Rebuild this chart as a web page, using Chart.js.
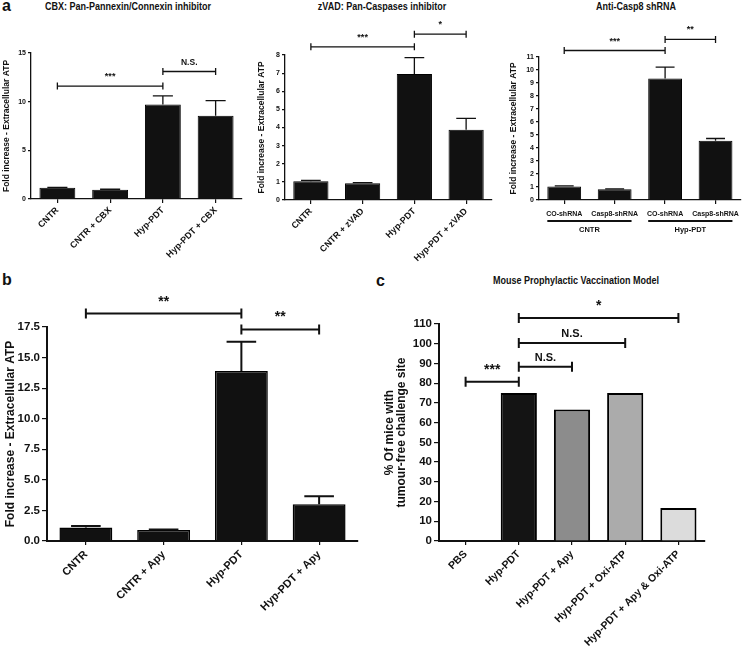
<!DOCTYPE html>
<html>
<head>
<meta charset="utf-8">
<script src="https://cdn.jsdelivr.net/npm/chart.js@4.4.0/dist/chart.umd.min.js"></script>
<style>
  body { margin: 0; background: #fff; width: 745px; height: 657px; position: relative; overflow: hidden; }
  canvas { position: absolute; }
  .letter { position: absolute; font: bold 16px "Liberation Sans", Arial, sans-serif; line-height: 16px; color: #111; }
  .title { position: absolute; font: bold 10px "Liberation Sans Narrow", "Liberation Sans", Arial, sans-serif; line-height: 14px;
           color: #111; white-space: nowrap; transform: translateX(-50%) scaleX(0.9); }
</style>
</head>
<body>
<div class="letter" style="left:2px;top:-2px">a</div>
<div class="title" style="left:128px;top:0px">CBX: Pan-Pannexin/Connexin inhibitor</div>
<div class="title" style="left:382px;top:0px">zVAD: Pan-Caspases inhibitor</div>
<div class="title" style="left:636px;top:0px">Anti-Casp8 shRNA</div>
<div class="letter" style="left:2px;top:272px">b</div>
<div class="letter" style="left:376px;top:273px">c</div>
<div class="title" style="left:576px;top:274px">Mouse Prophylactic Vaccination Model</div>

<canvas id="a1" width="250" height="300" style="left:0;top:0"></canvas>
<canvas id="a2" width="250" height="300" style="left:245px;top:0"></canvas>
<canvas id="a3" width="255" height="300" style="left:490px;top:0"></canvas>
<canvas id="b" width="370" height="397" style="left:0;top:260px"></canvas>
<canvas id="c" width="375" height="397" style="left:370px;top:260px"></canvas>

<script>
// panel a, CBX
const a1Labels = ['CNTR', 'CNTR + CBX', 'Hyp-PDT', 'Hyp-PDT + CBX'];
const a1Values = [1.15, 0.95, 9.7, 8.55];
const a1Sem = [0.05, 0.05, 0.9, 1.55];
const a1Ticks = [0, 5, 10, 15];
const a1Sig = [[0, 2, 11.6, '***'], [2, 3, 13.1, 'N.S.']];

// panel a, zVAD
const a2Labels = ['CNTR', 'CNTR + zVAD', 'Hyp-PDT', 'Hyp-PDT + zVAD'];
const a2Values = [1.03, 0.93, 6.95, 3.88];
const a2Sem = [0.05, 0.03, 0.9, 0.62];
const a2Ticks = [0, 1, 2, 3, 4, 5, 6, 7, 8];
const a2Sig = [[0, 2, 8.45, '***'], [2, 3, 9.15, '*']];

// panel a, shRNA
const a3Labels = ['CO-shRNA', 'Casp8-shRNA', 'CO-shRNA', 'Casp8-shRNA'];
const a3Groups = ['CNTR', 'Hyp-PDT'];
const a3GroupSpans = [[0, 1], [2, 3]];
const a3Values = [1.03, 0.83, 9.35, 4.55];
const a3Sem = [0.06, 0.03, 0.87, 0.18];
const a3Ticks = [0, 1, 2, 3, 4, 5, 6, 7, 8, 9, 10, 11];
const a3Sig = [[0, 2, 11.5, '***'], [2, 3, 12.35, '**']];

// panel b
const bLabels = ['CNTR', 'CNTR + Apy', 'Hyp-PDT', 'Hyp-PDT + Apy'];
const bValues = [1.1, 0.9, 13.9, 3.0];
const bSem = [0.12, 0.05, 2.4, 0.65];
const bTicks = [0, 2.5, 5, 7.5, 10, 12.5, 15, 17.5];
const bSig = [[0, 2, 18.6, '**'], [2, 3, 17.3, '**']];

// panel c
const cLabels = ['PBS', 'Hyp-PDT', 'Hyp-PDT + Apy', 'Hyp-PDT + Oxi-ATP', 'Hyp-PDT + Apy & Oxi-ATP'];
const cValues = [0, 75, 66.7, 75, 16.7];
const cColors = ['#ffffff', '#141414', '#8c8c8c', '#ababab', '#dcdcdc'];
const cTicks = [0, 10, 20, 30, 40, 50, 60, 70, 80, 90, 100, 110];
const cSig = [[0, 1, 80.7, '***'], [1, 2, 88.3, 'N.S.'], [1, 3, 100.4, 'N.S.'], [1, 4, 113, '*']];

Chart.defaults.font.family = '"Liberation Sans", Arial, sans-serif';
Chart.defaults.font.weight = 'bold';
Chart.defaults.color = '#111';

const INK = '#111';

// error bars, significance brackets, group lines
const marks = {
  id: 'marks',
  afterDatasetsDraw(chart, args, o) {
    const ctx = chart.ctx;
    const xs = chart.scales.x;
    const ys = chart.scales.y;
    const meta = chart.getDatasetMeta(0);
    const vals = chart.data.datasets[0].data;
    ctx.save();
    ctx.strokeStyle = INK;
    ctx.fillStyle = INK;
    ctx.lineWidth = o.lw;

    (o.sem || []).forEach((e, i) => {
      const bar = meta.data[i];
      const top = ys.getPixelForValue(vals[i] + e);
      const half = bar.width * 0.28;
      ctx.beginPath();
      ctx.moveTo(bar.x, bar.y);
      ctx.lineTo(bar.x, top);
      ctx.moveTo(bar.x - half, top);
      ctx.lineTo(bar.x + half, top);
      ctx.stroke();
    });

    ctx.textAlign = 'center';
    ctx.textBaseline = 'alphabetic';
    (o.sig || []).forEach(([from, to, v, txt]) => {
      const x1 = xs.getPixelForValue(from);
      const x2 = xs.getPixelForValue(to);
      const y = ys.getPixelForValue(v);
      ctx.beginPath();
      ctx.moveTo(x1, y); ctx.lineTo(x2, y);
      ctx.moveTo(x1, y - o.cap); ctx.lineTo(x1, y + o.cap);
      ctx.moveTo(x2, y - o.cap); ctx.lineTo(x2, y + o.cap);
      ctx.stroke();
      const star = txt.startsWith('*');
      ctx.font = 'bold ' + (star ? o.starSize : o.nsSize) + 'px "Liberation Sans", Arial, sans-serif';
      ctx.fillText(txt, (x1 + x2) / 2, y - (star ? o.starGap : o.nsGap));
    });

    if (o.groups) {
      const base = chart.chartArea.bottom;
      ctx.font = 'bold 7.5px "Liberation Sans Narrow", "Liberation Sans", Arial, sans-serif';
      ctx.textBaseline = 'middle';
      o.groups.forEach((name, g) => {
        const [i, j] = o.spans[g];
        const l = meta.data[i].x - meta.data[i].width / 2;
        const r = meta.data[j].x + meta.data[j].width / 2;
        ctx.lineWidth = 2;
        ctx.beginPath();
        ctx.moveTo(l, base + 21); ctx.lineTo(r, base + 21);
        ctx.stroke();
        ctx.fillText(name, (l + r) / 2, base + 30);
      });
    }
    ctx.restore();
  }
};

function panel(id, p) {
  const cv = document.getElementById(id);
  const w = cv.width, h = cv.height;
  return new Chart(cv, {
    type: 'bar',
    data: {
      labels: p.labels,
      datasets: [{
        data: p.values,
        backgroundColor: p.colors || '#111',
        borderColor: '#000',
        borderWidth: p.border,
        borderSkipped: 'bottom',
        categoryPercentage: 1,
        barPercentage: p.barPct
      }]
    },
    options: {
      responsive: false,
      animation: false,
      layout: { padding: { left: 0, top: p.area[2], right: w - p.area[1], bottom: 0 } },
      plugins: { legend: { display: false }, tooltip: { enabled: false }, marks: p.marks },
      scales: {
        x: {
          grid: { offset: false, drawOnChartArea: false, drawTicks: true, tickLength: 4, color: INK, lineWidth: 1.2 },
          border: { display: true, color: INK, width: p.axisW },
          ticks: {
            autoSkip: false, maxRotation: p.rot, minRotation: p.rot, padding: p.xPad,
            font: { size: p.xFont, family: p.xFamily }, color: INK
          },
          afterFit(s) { s.height = h - p.area[3]; }
        },
        y: {
          min: 0,
          max: p.ticks[p.ticks.length - 1],
          afterBuildTicks(s) { s.ticks = p.ticks.map(v => ({ value: v })); },
          grid: { drawOnChartArea: false, drawTicks: true, tickLength: p.tickLen, color: INK, lineWidth: 1.2 },
          border: { display: true, color: INK, width: p.axisW },
          ticks: { padding: 2, font: { size: p.yFont }, color: INK, callback: p.fmt || (v => v) },
          title: {
            display: true, text: p.yTitle, color: INK,
            font: { size: p.yTitleSize, lineHeight: p.yTitleLH || 1.2 },
            padding: { top: p.yTitlePad, bottom: 0 }
          },
          afterFit(s) { s.width = p.area[0]; }
        }
      }
    },
    plugins: [marks]
  });
}

const atpTitle = 'Fold increase - Extracellular ATP';
const smallMarks = { lw: 1.3, cap: 3.5, starSize: 9, nsSize: 8.5, starGap: 7, nsGap: 6 };

panel('a1', {
  labels: a1Labels, values: a1Values, ticks: a1Ticks, border: 1, barPct: 0.68,
  area: [31, 242, 53, 199], axisW: 1.3, tickLen: 3, rot: 45, xPad: 2, xFont: 9,
  yFont: 7, yTitle: atpTitle, yTitleSize: 8.5, yTitlePad: 2,
  marks: Object.assign({ sem: a1Sem, sig: a1Sig }, smallMarks)
});

panel('a2', {
  labels: a2Labels, values: a2Values, ticks: a2Ticks, border: 1, barPct: 0.68,
  area: [40, 247, 55, 200], axisW: 1.3, tickLen: 3, rot: 45, xPad: 2, xFont: 9,
  yFont: 7, yTitle: atpTitle, yTitleSize: 8.5, yTitlePad: 12,
  marks: Object.assign({ sem: a2Sem, sig: a2Sig }, smallMarks)
});

panel('a3', {
  labels: a3Labels, values: a3Values, ticks: a3Ticks, border: 1, barPct: 0.67,
  area: [49, 254, 57, 200], axisW: 1.3, tickLen: 3, rot: 0, xPad: 6, xFont: 7,
  xFamily: '"Liberation Sans Narrow", "Liberation Sans", Arial, sans-serif',
  yFont: 7, yTitle: atpTitle, yTitleSize: 8.5, yTitlePad: 19,
  marks: Object.assign({ sem: a3Sem, sig: a3Sig, groups: a3Groups, spans: a3GroupSpans }, smallMarks)
});

panel('b', {
  labels: bLabels, values: bValues, ticks: bTicks, border: 1.5, barPct: 0.68,
  area: [47, 358, 67, 281], axisW: 2, tickLen: 5, rot: 45, xPad: 3, xFont: 11,
  yFont: 11.5, yTitle: atpTitle, yTitleSize: 12, yTitlePad: 3, fmt: v => v.toFixed(1),
  marks: { sem: bSem, sig: bSig, lw: 2, cap: 5, starSize: 14, nsSize: 11, starGap: 8, nsGap: 6 }
});

panel('c', {
  labels: cLabels, values: cValues, colors: cColors, ticks: cTicks, border: 2, barPct: 0.68,
  area: [69, 335, 64, 281], axisW: 2, tickLen: 5, rot: 45, xPad: 3, xFont: 10.5,
  yFont: 11.5, yTitle: ['% Of mice with', 'tumour-free challenge site'], yTitleSize: 12, yTitleLH: 1.0, yTitlePad: 14,
  marks: { sig: cSig, lw: 2, cap: 5, starSize: 14, nsSize: 11, starGap: 8, nsGap: 6 }
});
</script>
</body>
</html>
